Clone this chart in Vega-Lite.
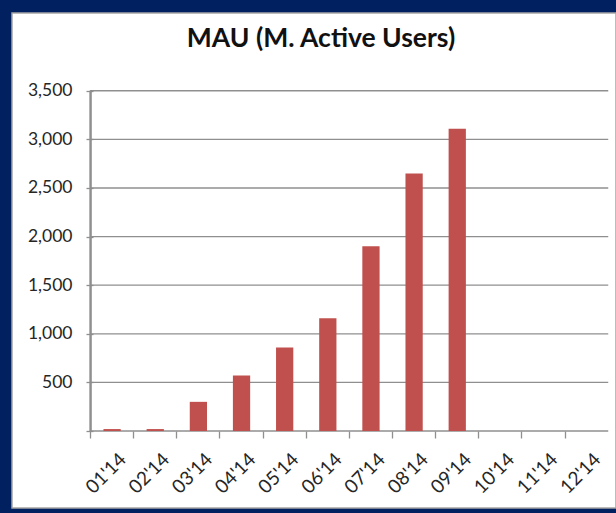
{
  "$schema": "https://vega.github.io/schema/vega-lite/v6.json",
  "width": 604,
  "height": 495,
  "autosize": {"type": "none"},
  "padding": {"left": 12, "top": 13, "right": 0, "bottom": 5},
  "background": "#002060",
  "config": {
    "view": {"fill": "white", "stroke": "#a6a6a6", "strokeWidth": 1.5},
    "font": "Lato"
  },
  "title": {
    "text": "MAU (M. Active Users)",
    "font": "Lato",
    "fontSize": 26.5,
    "fontWeight": "bold",
    "color": "#111111",
    "anchor": "middle",
    "baseline": "alphabetic",
    "offset": -60,
    "dx": 7
  },
  "datasets": {
    "mau": [
      {"month": "01'14", "users": 20},
      {"month": "02'14", "users": 20},
      {"month": "03'14", "users": 300},
      {"month": "04'14", "users": 570},
      {"month": "05'14", "users": 860},
      {"month": "06'14", "users": 1160},
      {"month": "07'14", "users": 1900},
      {"month": "08'14", "users": 2650},
      {"month": "09'14", "users": 3110},
      {"month": "10'14", "users": null},
      {"month": "11'14", "users": null},
      {"month": "12'14", "users": null}
    ],
    "grid": [
      {"v": 0}, {"v": 500}, {"v": 1000}, {"v": 1500},
      {"v": 2000}, {"v": 2500}, {"v": 3000}, {"v": 3500}
    ]
  },
  "layer": [
    {
      "data": {"name": "grid"},
      "mark": {"type": "rule", "color": "#8f8f8f", "strokeWidth": 1.3},
      "encoding": {
        "y": {"field": "v", "type": "quantitative"},
        "x": {"datum": "01'14", "bandPosition": 0, "type": "nominal"},
        "x2": {"datum": "12'14", "bandPosition": 1}
      }
    },
    {
      "data": {"name": "grid"},
      "mark": {"type": "rule", "color": "#8f8f8f", "strokeWidth": 1.3},
      "encoding": {
        "x": {"datum": "01'14", "bandPosition": 0, "type": "nominal"},
        "y": {"datum": 0, "type": "quantitative"},
        "y2": {"datum": 3500}
      }
    },
    {
      "data": {"name": "mau"},
      "mark": {"type": "bar", "color": "#C0504D", "width": {"band": 0.4}},
      "encoding": {
        "x": {
          "field": "month",
          "type": "nominal",
          "sort": null,
          "title": null,
          "scale": {
            "domain": ["01'14", "02'14", "03'14", "04'14", "05'14", "06'14", "07'14", "08'14", "09'14", "10'14", "11'14", "12'14"],
            "paddingInner": 0, "paddingOuter": 1.0369, "align": 0.9101
          },
          "axis": {
            "offset": -77,
            "domain": false,
            "grid": false,
            "bandPosition": 0,
            "tickSize": 7,
            "tickColor": "#8f8f8f",
            "tickWidth": 1.3,
            "labelAngle": -45,
            "labelOffset": 11,
            "labelPadding": 18,
            "labelFontSize": 19,
            "labelColor": "#262626",
            "labelFont": "Lato"
          }
        },
        "y": {
          "field": "users",
          "type": "quantitative",
          "title": null,
          "scale": {"domain": [-792, 4300], "nice": false, "zero": false},
          "axis": {
            "offset": -81,
            "values": [0, 500, 1000, 1500, 2000, 2500, 3000, 3500],
            "format": ",.0f",
            "domain": false,
            "grid": false,
            "tickSize": 7,
            "tickColor": "#8f8f8f",
            "tickWidth": 1.3,
            "labelPadding": 14,
            "labelFontSize": 17.5,
            "labelColor": "#262626",
            "labelFont": "Lato",
            "labelExpr": "datum.value === 0 ? '' : datum.label"
          }
        }
      }
    }
  ]
}
